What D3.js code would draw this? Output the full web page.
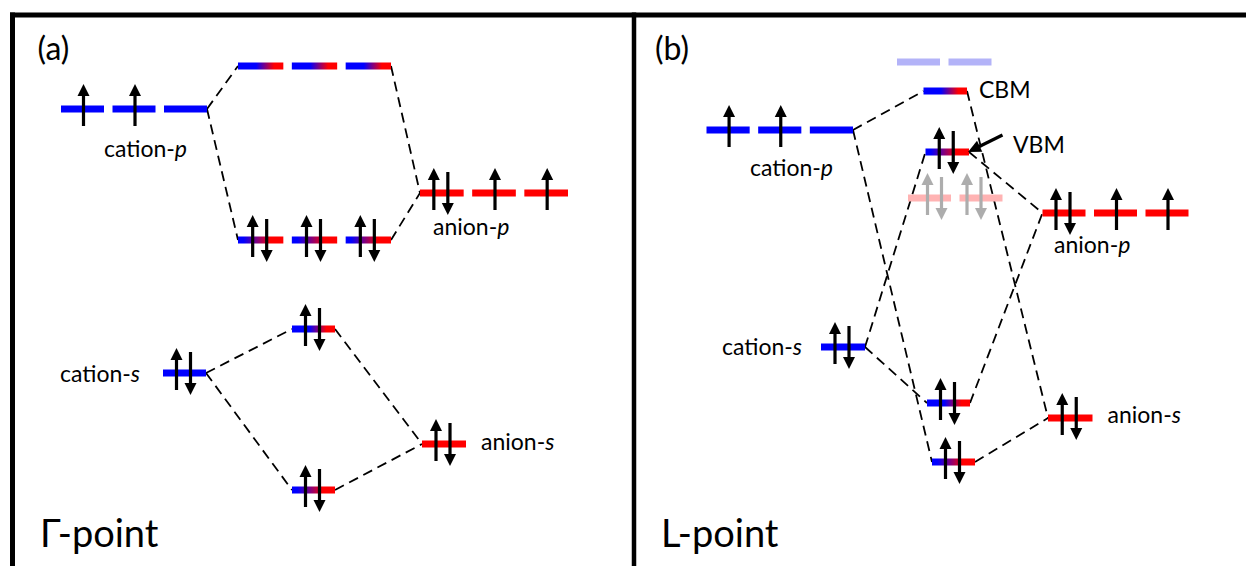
<!DOCTYPE html>
<html>
<head>
<meta charset="utf-8">
<script src="https://cdn.jsdelivr.net/npm/d3@7"></script>
<style>
  html, body { margin: 0; padding: 0; background: #fff; }
  svg { display: block; }
  text { font-family: Lato, "Open Sans", sans-serif; fill: #000; }
</style>
</head>
<body>
<svg id="chart" width="1246" height="566"></svg>
<script>
// Orbital levels: horizontal extent (x0..x1) and energy E, in diagram units.
// kind: cation (blue), anion (red), anti / bond (mixed character), ghostBlue / ghostRed (faded)
// occ: one entry per dash -> "pair", "up" or ""
const panelA = [
  { id: "a_catP",  x0: 6.1,  x1: 20.7, E: 43.1, n: 3, kind: "cation", occ: ["up", "up", ""] },
  { id: "a_antiP", x0: 23.8, x1: 39.1, E: 47.4, n: 3, kind: "anti",   occ: ["", "", ""] },
  { id: "a_bondP", x0: 23.8, x1: 39.1, E: 30.0, n: 3, kind: "bond",   occ: ["pair", "pair", "pair"] },
  { id: "a_anP",   x0: 42.0, x1: 56.8, E: 34.7, n: 3, kind: "anion",  occ: ["pair", "up", "up"] },
  { id: "a_catS",  x0: 16.3, x1: 20.6, E: 16.7, n: 1, kind: "cation", occ: ["pair"] },
  { id: "a_antiS", x0: 29.2, x1: 33.5, E: 21.1, n: 1, kind: "anti",   occ: ["pair"] },
  { id: "a_bondS", x0: 29.2, x1: 33.5, E: 5.0,  n: 1, kind: "bond",   occ: ["pair"] },
  { id: "a_anS",   x0: 42.2, x1: 46.6, E: 9.6,  n: 1, kind: "anion",  occ: ["pair"] }
];

const panelB = [
  { id: "b_ghostC", x0: 89.7,  x1: 99.15,  E: 47.8, n: 2, kind: "ghostBlue", occ: ["", ""] },
  { id: "b_cbm",    x0: 92.35, x1: 96.7,   E: 44.9, n: 1, kind: "anti",      occ: [""] },
  { id: "b_catP",   x0: 70.65, x1: 85.3,   E: 41.0, n: 3, kind: "cation",    occ: ["up", "up", ""] },
  { id: "b_vbm",    x0: 92.55, x1: 96.9,   E: 38.8, n: 1, kind: "bond",      occ: ["pair"] },
  { id: "b_ghostV", x0: 90.8,  x1: 100.25, E: 34.2, n: 2, kind: "ghostRed",  occ: ["pair", "pair"], spinShift: [0.6, -0.6] },
  { id: "b_anP",    x0: 104.25,x1: 118.85, E: 32.7, n: 3, kind: "anion",     occ: ["pair", "up", "up"] },
  { id: "b_catS",   x0: 82.1,  x1: 86.5,   E: 19.3, n: 1, kind: "cation",    occ: ["pair"] },
  { id: "b_mid",    x0: 92.7,  x1: 97.0,   E: 13.7, n: 1, kind: "anti",      occ: ["pair"] },
  { id: "b_low",    x0: 93.2,  x1: 97.5,   E: 7.8,  n: 1, kind: "bond",      occ: ["pair"] },
  { id: "b_anS",    x0: 104.8, x1: 109.25, E: 12.2, n: 1, kind: "anion",     occ: ["pair"] }
];

// Correlation lines: right end of the first level to left end of the second
const linksA = [
  ["a_catP", "a_antiP"], ["a_catP", "a_bondP"], ["a_antiP", "a_anP"], ["a_bondP", "a_anP"],
  ["a_catS", "a_antiS"], ["a_catS", "a_bondS"], ["a_antiS", "a_anS"], ["a_bondS", "a_anS"]
];
const linksB = [
  ["b_catP", "b_cbm"], ["b_catP", "b_low"], ["b_cbm", "b_anS"], ["b_catS", "b_vbm"],
  ["b_vbm", "b_anP"], ["b_catS", "b_mid"], ["b_mid", "b_anP"], ["b_low", "b_anS"]
];

// Text labels: x = left edge, E = baseline, in diagram units
const labels = [
  { text: "(a)",     italic: "",  x: 3.75,  E: 48.0, size: 32 },
  { text: "(b)",     italic: "",  x: 65.5,  E: 48.0, size: 32 },
  { text: "cation-", italic: "p", x: 10.4,  E: 38.3, size: 23 },
  { text: "anion-",  italic: "p", x: 43.3,  E: 30.5, size: 23 },
  { text: "cation-", italic: "s", x: 6.0,   E: 15.8, size: 23 },
  { text: "anion-",  italic: "s", x: 48.1,  E: 9.0,  size: 23 },
  { text: "Γ-point", italic: "",  x: 4.0,   E: -0.7, size: 38 },
  { text: "L-point", italic: "",  x: 66.1,  E: -0.7, size: 38 },
  { text: "CBM",     italic: "",  x: 97.9,  E: 44.2, size: 23 },
  { text: "VBM",     italic: "",  x: 101.3, E: 38.7, size: 23 },
  { text: "cation-", italic: "p", x: 75.0,  E: 36.4, size: 23 },
  { text: "anion-",  italic: "p", x: 105.4, E: 28.7, size: 23 },
  { text: "cation-", italic: "s", x: 72.2,  E: 18.5, size: 23 },
  { text: "anion-",  italic: "s", x: 110.75,E: 11.7, size: 23 }
];

// Pointer from the VBM label to its level
const pointers = [ { from: [100.25, 40.5], to: [96.8, 38.8] } ];

const W = 1246, H = 566;
const svg = d3.select("#chart");
const x = d3.scaleLinear().domain([0, 124.6]).range([0, W]);
const y = d3.scaleLinear().domain([0, 54]).range([540, 0]);

// gradients for mixed-character levels
const defs = svg.append("defs");
const gradStops = {
  anti: [[0, "#0000ff"], [0.4, "#0000ff"], [0.8, "#ff0000"], [1, "#ff0000"]],
  bond: [[0, "#0000ff"], [0.12, "#0000ff"], [0.72, "#ff0000"], [1, "#ff0000"]]
};
Object.entries(gradStops).forEach(([k, stops]) => {
  const g = defs.append("linearGradient").attr("id", "g-" + k)
    .attr("x1", 0).attr("x2", 1).attr("y1", 0).attr("y2", 0);
  stops.forEach(([o, c]) => g.append("stop").attr("offset", o).attr("stop-color", c));
});
const fillFor = {
  cation: "#0000ff", anion: "#ff0000",
  anti: "url(#g-anti)", bond: "url(#g-bond)",
  ghostBlue: "#b3b3f8", ghostRed: "#ffb3b3"
};

// frame
const frame = svg.append("g").attr("stroke", "#000").attr("stroke-width", 5);
frame.append("line").attr("x1", 10).attr("x2", W).attr("y1", 15).attr("y2", 15);
frame.append("line").attr("x1", 12.5).attr("x2", 12.5).attr("y1", 12.5).attr("y2", H);
frame.append("line").attr("x1", 634).attr("x2", 634).attr("y1", 12.5).attr("y2", H).attr("stroke-width", 4.5);

const levels = panelA.concat(panelB);
const byId = new Map(levels.map(d => [d.id, d]));
const GAP = 0.85;

// dashed correlation lines
svg.append("g").selectAll("line").data(linksA.concat(linksB)).join("line")
  .attr("x1", d => x(byId.get(d[0]).x1)).attr("y1", d => y(byId.get(d[0]).E))
  .attr("x2", d => x(byId.get(d[1]).x0)).attr("y2", d => y(byId.get(d[1]).E))
  .attr("stroke", "#000").attr("stroke-width", 1.8).attr("stroke-dasharray", "10,6");

// split every level into its dashes
const dashes = [];
levels.forEach(l => {
  const w = (l.x1 - l.x0 - (l.n - 1) * GAP) / l.n;
  for (let i = 0; i < l.n; i++) {
    const a = l.x0 + i * (w + GAP);
    const shift = l.spinShift ? l.spinShift[i] : 0;
    dashes.push({ level: l, a, b: a + w, occ: l.occ[i], shift });
  }
});

svg.append("g").selectAll("rect").data(dashes).join("rect")
  .attr("x", d => x(d.a)).attr("width", d => x(d.b) - x(d.a))
  .attr("y", d => y(d.level.E) - 3.5).attr("height", 7)
  .attr("fill", d => fillFor[d.level.kind]);

// electron spin arrows
const spins = [];
dashes.forEach(d => {
  const cx = x((d.a + d.b) / 2 + d.shift), cy = y(d.level.E);
  const faded = d.level.kind.startsWith("ghost");
  if (d.occ === "up") spins.push({ ax: cx + 1, cy, up: true, faded });
  if (d.occ === "pair") {
    spins.push({ ax: cx - 8, cy, up: true, faded });
    spins.push({ ax: cx + 6, cy, up: false, faded });
  }
});
const HL = 12, HW = 6;
const sg = svg.append("g").selectAll("g").data(spins).join("g")
  .attr("fill", d => d.faded ? "#adadad" : "#000")
  .attr("stroke", d => d.faded ? "#adadad" : "#000");
sg.append("line")
  .attr("x1", d => d.ax).attr("x2", d => d.ax)
  .attr("y1", d => d.up ? d.cy + 17 : d.cy - 21)
  .attr("y2", d => d.up ? d.cy - 25 + HL - 1 : d.cy + 22 - HL + 1)
  .attr("stroke-width", 3.2);
sg.append("path").attr("stroke", "none")
  .attr("d", d => {
    const tip = d.up ? d.cy - 25 : d.cy + 22, s = d.up ? 1 : -1;
    return `M${d.ax},${tip}L${d.ax - HW},${tip + s * HL}L${d.ax + HW},${tip + s * HL}Z`;
  });

// VBM pointer
pointers.forEach(p => {
  const x1 = x(p.from[0]), y1 = y(p.from[1]), x2 = x(p.to[0]), y2 = y(p.to[1]);
  const ang = Math.atan2(y2 - y1, x2 - x1), ux = Math.cos(ang), uy = Math.sin(ang);
  const bx = x2 - ux * 13, by = y2 - uy * 13;
  svg.append("line").attr("x1", x1).attr("y1", y1).attr("x2", bx + ux).attr("y2", by + uy)
    .attr("stroke", "#000").attr("stroke-width", 3.2);
  svg.append("path").attr("fill", "#000")
    .attr("d", `M${x2},${y2}L${bx - uy * 6},${by + ux * 6}L${bx + uy * 6},${by - ux * 6}Z`);
});

// labels
const t = svg.append("g").selectAll("text").data(labels).join("text")
  .attr("x", d => x(d.x)).attr("y", d => y(d.E))
  .attr("font-size", d => d.size);
t.append("tspan").text(d => d.text);
t.filter(d => d.italic).append("tspan").attr("font-style", "italic").text(d => d.italic);
</script>
</body>
</html>
